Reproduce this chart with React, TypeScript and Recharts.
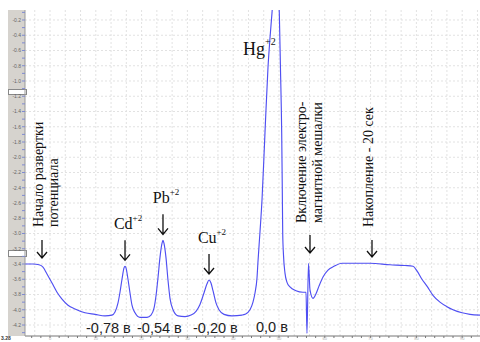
import { LineChart, Line, XAxis, YAxis, CartesianGrid, ReferenceDot } from "recharts";

const time = [
  -5.46, -3.71, -2.4, -1.53, -0.66, 0.44, 1.53, 2.62, 3.93, 5.46,
  7.64, 9.83, 12.01, 13.54, 14.19, 14.85, 15.28, 15.72, 16.16, 16.38,
  16.59, 17.03, 17.47, 17.9, 18.56, 19.65, 21.18, 22.05, 22.71, 23.14,
  23.58, 24.02, 24.45, 24.67, 24.89, 25.33, 25.76, 26.2, 26.86, 27.95,
  29.48, 30.79, 31.88, 32.75, 33.62, 34.28, 34.72, 35.15, 35.59, 36.24,
  36.9, 37.99, 39.74, 41.92, 42.58, 43.67, 44.32, 44.76, 45.2, 45.41,
  45.85, 46.29, 46.94, 47.6, 48.03, 48.47, 48.91, 49.35, 49.78, 50.07,
  50.33, 50.59, 50.72, 50.81, 50.98, 51.31, 51.75, 52.4, 53.71, 55.24,
  55.9, 56.11, 56.44, 56.77, 57.42, 58.08, 58.73, 59.61, 60.7, 62.01,
  63.76, 66.59, 69.87, 74.24, 77.51, 79.26, 80.13, 81.22, 82.31, 83.62,
  85.15, 86.68, 87.99, 89.96, 91.7, 93.89,
];
const current = [
  -3.4, -3.4, -3.41, -3.44, -3.53, -3.65, -3.77, -3.86, -3.94, -3.99,
  -4.04, -4.06, -4.08, -4.07, -4.03, -3.91, -3.77, -3.6, -3.45, -3.43,
  -3.45, -3.6, -3.78, -3.94, -4.04, -4.1, -4.1, -4.07, -3.98, -3.82,
  -3.58, -3.31, -3.13, -3.09, -3.13, -3.32, -3.61, -3.85, -4.0, -4.08,
  -4.09, -4.07, -4.02, -3.93, -3.78, -3.66, -3.61, -3.65, -3.75, -3.91,
  -4.0, -4.06, -4.08, -4.07, -4.06, -4.0, -3.9, -3.78, -3.58, -3.37,
  -2.98, -2.56, -1.68, -0.82, -0.44, -0.11, 0.26, 0.59, 0.19, -0.11,
  -0.86, -1.68, -2.43, -2.99, -3.28, -3.52, -3.64, -3.7, -3.75, -3.77,
  -3.77, -4.31, -3.39, -3.74, -3.85, -3.79, -3.69, -3.57, -3.48, -3.43,
  -3.39, -3.39, -3.39, -3.41, -3.42, -3.43, -3.49, -3.6, -3.69, -3.81,
  -3.9, -3.96, -4.0, -4.04, -4.06, -4.07,
];

const yTicks = [
  -0.1, -0.2, -0.3, -0.4, -0.5, -0.6, -0.7, -0.8, -0.9, -1.0, -1.1, -1.2, -1.3, -1.4, -1.5,
  -1.6, -1.7, -1.8, -1.9, -2.0, -2.1, -2.2, -2.3, -2.4, -2.5, -2.6, -2.7, -2.8, -2.9, -3.0,
  -3.1, -3.2, -3.3, -3.4, -3.5, -3.6, -3.7, -3.8, -3.9, -4.0, -4.1, -4.2, -4.3,
];
const xTicks = [
  -4, -2, 0, 2, 4, 6, 8, 10, 12, 14, 16, 18, 20, 22, 24, 26, 28, 30, 32, 34, 36, 38, 40, 42, 44,
  46, 48, 50, 52, 54, 56, 58, 60, 62, 64, 66, 68, 70, 72, 74, 76, 78, 80, 82, 84, 86, 88, 90, 92,
];

const peaks = [
  { ion: "Cd", t: 16.38, v: -3.43 },
  { ion: "Pb", t: 24.67, v: -3.09 },
  { ion: "Cu", t: 34.72, v: -3.61 },
];
const potentials = ["-0,78 в", "-0,54 в", "-0,20 в", "0,0 в"];
const potentialX = [86, 137, 193, 256];

const data = time.map((t, i) => ({ t, v: current[i] }));

const minorX: number[] = [];
for (let k = -1; k <= 28; k++) minorX.push((k * 10) / 3);

const SERIF = "'Liberation Serif', 'Times New Roman', serif";
const SANS = "'Liberation Sans', Arial, sans-serif";

const Arrow = ({ x, y1, y2 }: { x: number; y1: number; y2: number }) => (
  <path
    d={`M${x},${y1} L${x},${y2} M${x - 5},${y2 - 6} L${x},${y2} L${x + 5},${y2 - 6}`}
    stroke="#111"
    strokeWidth={1.3}
    fill="none"
  />
);

const PeakMark = (props: any) => {
  const { cx, cy, ion } = props;
  return (
    <g>
      <Arrow x={cx} y1={cy - 26} y2={cy - 6} />
      <text x={cx + 3} y={cy - 37} textAnchor="middle" fontFamily={SERIF} fontSize={16} fill="#111">
        {ion}
        <tspan fontSize={9} dy={-8}>+2</tspan>
      </text>
    </g>
  );
};

export default function App() {
  return (
    <div style={{ position: "fixed", left: 0, top: 0, width: 480, height: 342, background: "#fff", overflow: "hidden" }}>
      <div style={{ position: "absolute", left: 8, top: 10, width: 17, height: 326, background: "#d6d3ce" }} />
      <div style={{ position: "absolute", left: 8, top: 89, width: 17, height: 4, background: "#fff", border: "1px solid #888" }} />
      <div style={{ position: "absolute", left: 8, top: 250, width: 17, height: 5, background: "#fff", border: "1px solid #888" }} />
      <div style={{ position: "absolute", left: 1, top: 335, fontFamily: SANS, fontSize: 5, lineHeight: "6px", fontWeight: 700, color: "#333" }}>3.28</div>
      <div style={{ position: "absolute", left: 0, top: 0 }}>
        <LineChart width={480} height={342} data={data} margin={{ top: 10, right: 0, bottom: 0, left: 8 }}>
          <CartesianGrid stroke="#e2e2e2" strokeDasharray="2 2" horizontalValues={yTicks.filter((_, i) => i % 2 === 1)} verticalValues={minorX} />
          <XAxis
            type="number"
            dataKey="t"
            domain={[-5.46, 93.89]}
            allowDataOverflow
            ticks={xTicks}
            interval={0}
            height={6}
            tickSize={2}
            tickMargin={-1}
            axisLine={{ stroke: "#777" }}
            tickLine={{ stroke: "#777" }}
            tick={{ fontSize: 4, fill: "#aaa", fontFamily: SANS }}
            tickFormatter={(v: number) => (v % 10 === 0 ? String(v) : "")}
          />
          <YAxis
            type="number"
            domain={[-4.344, -0.069]}
            allowDataOverflow
            ticks={yTicks}
            interval={0}
            width={17}
            tickSize={3}
            tickMargin={1}
            axisLine={{ stroke: "#999" }}
            tickLine={{ stroke: "#7f8ad0" }}
            tick={{ fontSize: 5, fill: "#666", fontFamily: SANS }}
            tickFormatter={(v: number) => (Math.round(v * 10) % 2 === 0 ? v.toFixed(1) : "")}
          />
          <Line
            type="monotone"
            dataKey="v"
            stroke="#4f4ff2"
            strokeWidth={1.15}
            dot={false}
            isAnimationActive={false}
          />
          {peaks.map((p) => (
            <ReferenceDot key={p.ion} x={p.t} y={p.v} shape={(s: any) => <PeakMark {...s} ion={p.ion} />} />
          ))}
        </LineChart>
      </div>
      <svg width={480} height={342} style={{ position: "absolute", left: 0, top: 0, pointerEvents: "none" }}>
        <g fontFamily={SERIF} fontSize={14} fill="#111">
          <text transform="translate(43,227) rotate(-90)">Начало развертки</text>
          <text transform="translate(58,227) rotate(-90)">потенциала</text>
          <text transform="translate(306,223) rotate(-90)">Включение электро-</text>
          <text transform="translate(322,223) rotate(-90)">магнитной мешалки</text>
          <text transform="translate(373,227) rotate(-90)">Накопление - 20 сек</text>
        </g>
        <Arrow x={42} y1={240} y2={258} />
        <Arrow x={310} y1={235} y2={253} />
        <Arrow x={372} y1={240} y2={257} />
        <text x={243} y={55} fontFamily={SERIF} fontSize={18} fill="#111">
          Hg
          <tspan fontSize={10} dy={-10}>+2</tspan>
        </text>
        {potentials.map((p, i) => (
          <text key={p} x={potentialX[i]} y={i === 3 ? 332 : 333} fontFamily={SANS} fontSize={14.5} fill="#222">
            {p}
          </text>
        ))}
      </svg>
    </div>
  );
}
